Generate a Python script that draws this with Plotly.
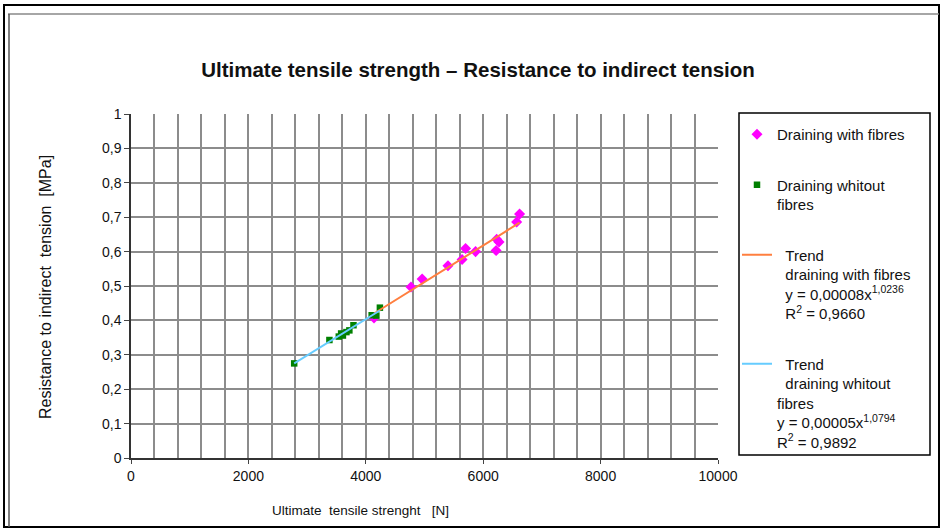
import numpy as np
import plotly.graph_objects as go

# ---- data ----
with_fibres_x = [4140, 4770, 4960, 5400, 5640, 5700, 5870, 6220, 6230, 6270, 6570, 6620]
with_fibres_y = [0.407, 0.497, 0.520, 0.559, 0.577, 0.609, 0.600, 0.603, 0.636, 0.628, 0.686, 0.709]

without_fibres_x = [2780, 3380, 3540, 3580, 3610, 3670, 3720, 3790, 4100, 4180, 4240]
without_fibres_y = [0.275, 0.343, 0.353, 0.362, 0.356, 0.366, 0.371, 0.386, 0.415, 0.414, 0.437]

x_ticks = [0, 2000, 4000, 6000, 8000, 10000]
y_ticks = [0, 0.1, 0.2, 0.3, 0.4, 0.5, 0.6, 0.7, 0.8, 0.9, 1]

title_text = "Ultimate tensile strength – Resistance to indirect tension"
x_title = "Ultimate\u00a0 tensile strenght\u00a0\u00a0 [N]"
y_title = "Resistance to indirect\u00a0 tension\u00a0 [MPa]"

name_with = "Draining with fibres"
name_without = "Draining whitout<br>fibres"
name_trend_with = ("\u00a0\u00a0Trend<br>\u00a0\u00a0draining with fibres<br>"
                   "\u00a0\u00a0y = 0,00008x<sup>1,0236</sup><br>\u00a0\u00a0R<sup>2</sup> = 0,9660")
name_trend_without = ("\u00a0\u00a0Trend<br>\u00a0\u00a0draining whitout<br>fibres<br>"
                      "y = 0,00005x<sup>1,0794</sup><br>R<sup>2</sup> = 0,9892")


def power_trend(xs, ys):
    xs = np.asarray(xs, float)
    ys = np.asarray(ys, float)
    b, lna = np.polyfit(np.log(xs), np.log(ys), 1)
    xx = np.linspace(xs.min(), xs.max(), 40)
    return xx, np.exp(lna) * xx ** b


tw_x, tw_y = power_trend(with_fibres_x, with_fibres_y)
to_x, to_y = power_trend(without_fibres_x, without_fibres_y)

FONT = "Liberation Sans, Arial, sans-serif"

fig = go.Figure()
fig.add_trace(go.Scatter(x=with_fibres_x, y=with_fibres_y, mode="markers", name=name_with,
                         legendgroup="a",
                         marker=dict(symbol="diamond", size=8.5, color="#FF00FF")))
fig.add_trace(go.Scatter(x=without_fibres_x, y=without_fibres_y, mode="markers", name=name_without,
                         legendgroup="b",
                         marker=dict(symbol="square", size=6.5, color="#008000")))
fig.add_trace(go.Scatter(x=tw_x, y=tw_y, mode="lines", name=name_trend_with, legendgroup="c",
                         line=dict(color="#FF7F3F", width=2)))
fig.add_trace(go.Scatter(x=to_x, y=to_y, mode="lines", name=name_trend_without, legendgroup="d",
                         line=dict(color="#66CCFF", width=2)))

L, R, T, B = 131, 718, 114, 458
W, H = 942, 530


def px(x):
    return (x - L) / (R - L)


def py(y):
    return (B - y) / (B - T)


shapes = [
    # outer frame
    dict(type="rect", xref="paper", yref="paper", x0=px(4), x1=px(939), y0=py(527), y1=py(5),
         line=dict(color="black", width=2)),
    dict(type="line", xref="paper", yref="paper", x0=px(8), x1=px(939), y0=py(14), y1=py(14),
         line=dict(color="#888888", width=1.5)),
    dict(type="line", xref="paper", yref="paper", x0=px(9), x1=px(9), y0=py(14), y1=py(527),
         line=dict(color="#555555", width=1.5)),
    # legend box
    dict(type="rect", xref="paper", yref="paper", x0=px(739), x1=px(930), y0=py(455), y1=py(113),
         line=dict(color="black", width=1.5)),
]

annotations = [
    dict(text=x_title, xref="paper", yref="paper", x=px(360), y=py(510), showarrow=False,
         xanchor="center", yanchor="middle", font=dict(family=FONT, size=13.5, color="#111")),
    dict(text=y_title, xref="paper", yref="paper", x=px(45), y=py(287), showarrow=False,
         textangle=-90, xanchor="center", yanchor="middle", font=dict(family=FONT, size=16, color="#111")),
]

fig.update_layout(
    width=W, height=H,
    margin=dict(l=L, r=W - R, t=T, b=H - B),
    paper_bgcolor="white", plot_bgcolor="white",
    separators=",.",
    font=dict(family=FONT, size=14, color="#111"),
    title=dict(text="<b>" + title_text + "</b>", x=478 / W, xanchor="center", xref="container",
               y=1 - 70 / H, yanchor="middle", yref="container",
               font=dict(family=FONT, size=20.5, color="#111")),
    xaxis=dict(range=[0, 10000], tickvals=x_ticks, tickformat="d", ticks="outside", ticklen=4,
               tickcolor="#444", showline=True, linecolor="#333", linewidth=1.5,
               showgrid=True, gridcolor="#8c8c8c", gridwidth=1.5, zeroline=False,
               minor=dict(dtick=400, showgrid=True, gridcolor="#8c8c8c", gridwidth=1.5),
               tickfont=dict(family=FONT, size=14, color="#111")),
    yaxis=dict(range=[0, 1], tickvals=y_ticks, ticks="outside", ticklen=5, tickcolor="#444",
               showline=True, linecolor="#333", linewidth=1.5,
               showgrid=True, gridcolor="#8c8c8c", gridwidth=1.5, zeroline=False,
               tickfont=dict(family=FONT, size=14, color="#111")),
    showlegend=True,
    legend=dict(x=px(737), y=py(118), xanchor="left", yanchor="top", bgcolor="rgba(0,0,0,0)",
                borderwidth=0, font=dict(family=FONT, size=15, color="#111"),
                tracegroupgap=28, valign="top", itemwidth=30, traceorder="grouped"),
    shapes=shapes,
    annotations=annotations,
)

fig.write_html("out.html", config={"displayModeBar": False},
               post_script="document.body.style.margin='0';document.body.style.overflow='hidden';")
